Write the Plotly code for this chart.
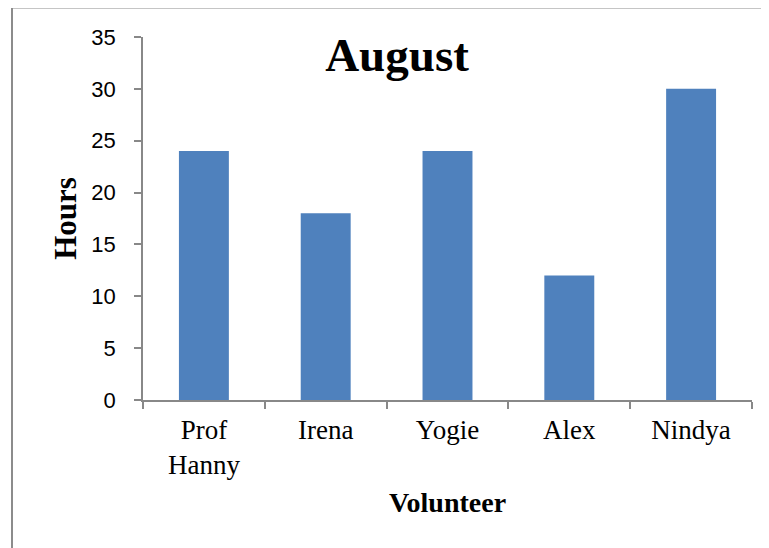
import plotly.graph_objects as go

categories = ["Prof<br>Hanny", "Irena", "Yogie", "Alex", "Nindya"]
hours = [24, 18, 24, 12, 30]
y_ticks = [0, 5, 10, 15, 20, 25, 30, 35]

# page body has an 8px margin; compensate so the figure lands on the 769x548 window
OFF = 8
W, H = 769 - OFF, 548 - OFF
L, R, T, B = 143 - OFF, 17, 37 - OFF, 148
pw, ph = W - L - R, H - T - B

fig = go.Figure(go.Bar(x=categories, y=hours, marker=dict(color="#4F81BD", line=dict(width=0))))

serif = "Liberation Serif, Times New Roman, serif"
axis_col = "#888888"

fig.update_layout(
    width=W, height=H,
    margin=dict(l=L, r=R, t=T, b=B),
    paper_bgcolor="white", plot_bgcolor="white",
    bargap=0.59,
    showlegend=False,
    title=dict(text="<b>August</b>", font=dict(family=serif, size=47, color="black"),
               xref="container", x=(397 - OFF) / W, xanchor="center",
               yref="container", y=1 - (55 - OFF) / H, yanchor="middle"),
    xaxis=dict(
        showline=True, linecolor=axis_col, linewidth=1.5,
        ticks="outside", tickson="boundaries", ticklen=7, tickcolor=axis_col, tickwidth=1.5,
        tickfont=dict(family=serif, size=27, color="black"),
        ticklabelstandoff=5,
        title=dict(text="<b>Volunteer</b>", font=dict(family=serif, size=28, color="black"), standoff=13),
        showgrid=False,
    ),
    yaxis=dict(
        range=[0, 35], tickvals=y_ticks,
        showline=True, linecolor=axis_col, linewidth=1.5,
        ticks="outside", ticklen=7, tickcolor=axis_col, tickwidth=1.5,
        tickfont=dict(family="Liberation Sans, Arial, sans-serif", size=22, color="black"),
        ticklabelstandoff=14,
        title=dict(text="<b>Hours</b>", font=dict(family=serif, size=31, color="black"), standoff=6),
        showgrid=False, zeroline=False,
    ),
    shapes=[dict(type="rect", xref="paper", yref="paper",
                 x0=(12 - 143) / pw, x1=(769 + 20 - 143) / pw,
                 y0=(400 - (548 + 20)) / ph, y1=(400 - 7.5) / ph,
                 line=dict(color="#8c8c8c", width=2), fillcolor="rgba(0,0,0,0)", layer="below")],
)

fig.write_html("out.html")
